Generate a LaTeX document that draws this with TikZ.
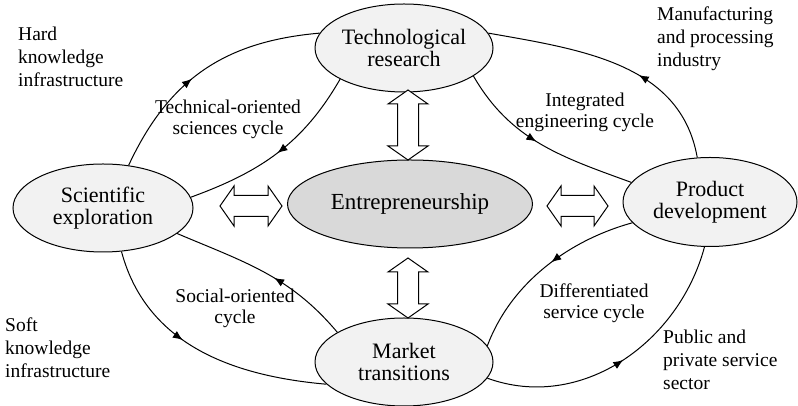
\documentclass[tikz,border=0pt]{standalone}
\usepackage{fontspec}
\setmainfont{LiberationSerif}[Extension=.ttf, UprightFont=*-Regular, BoldFont=*-Bold, ItalicFont=*-Italic]
\usetikzlibrary{shapes.geometric,arrows.meta,decorations.markings,calc}
\definecolor{ellfill}{HTML}{F2F2F2}
\definecolor{entfill}{HTML}{D9D9D9}
\newcommand\dblarr[2]{%
  \coordinate (da1) at ($(#1)!14pt!(#2)$);
  \coordinate (da2) at ($(#2)!14pt!(#1)$);
  \draw[dblarrow] (#1) -- ($(da1)!20pt!-90:(#2)$) -- ($(da1)!10.5pt!-90:(#2)$)
    -- ($(da2)!10.5pt!90:(#1)$) -- ($(da2)!20pt!90:(#1)$) -- (#2)
    -- ($(da2)!20pt!-90:(#1)$) -- ($(da2)!10.5pt!-90:(#1)$)
    -- ($(da1)!10.5pt!90:(#2)$) -- ($(da1)!20pt!90:(#2)$) -- cycle;}
\begin{document}
\begin{tikzpicture}[x=1pt,y=1pt,
  ell/.style={ellipse, draw, line width=1pt, fill=ellfill, inner sep=0pt,
    align=center, font=\fontsize{22}{22}\selectfont},
  cyc/.style={line width=1pt},
  midarr/.style={postaction={decorate,decoration={markings,
    mark=at position #1 with {\arrow{Latex[length=10pt,width=8pt]}}}}},
  dblarrow/.style={draw, line width=1pt, fill=white, line join=miter},
  lbl/.style={inner sep=0pt, align=center, anchor=base, font=\fontsize{19.5}{21}\selectfont},
  side/.style={inner sep=0pt, align=left, anchor=base west, font=\fontsize{19.5}{23}\selectfont}]
\useasboundingbox (0,0) rectangle (798,406);
\fill[white] (0,0) rectangle (798,406);

% nodes
\node[ell, minimum width=178pt, minimum height=88pt] (tech) at (404,358) {Technological\\research};
\node[ell, minimum width=180pt, minimum height=88pt] (sci) at (103,198) {Scientific\\exploration};
\node[ell, minimum width=174pt, minimum height=89pt] (prod) at (710,204) {Product\\development};
\node[ell, minimum width=178pt, minimum height=88pt] (mkt) at (404,44) {Market\\transitions};
\node[ell, fill=entfill, minimum width=245pt, minimum height=88pt,
  font=\fontsize{23}{23}\selectfont] (ent) at (410,202) {Entrepreneurship};

% cycles
\draw[cyc, midarr=0.44] (sci.59) to[out=65,in=185,looseness=1.05] (tech.170);
\draw[cyc, midarr=0.5] (tech.206) to[out=240,in=20] (sci.7);
\draw[cyc, midarr=0.4] (prod.106) to[out=100,in=-10] (tech.10);
\draw[cyc, midarr=0.47] (tech.-22) to[out=-60,in=160] (prod.166);
\draw[cyc, midarr=0.44] (mkt.156) to[out=130,in=-23] (sci.-19);
\draw[cyc, midarr=0.42] (sci.-67) to[out=-75,in=175] (mkt.196);
\draw[cyc, midarr=0.46] (prod.195) .. controls +(-62,-17) and +(24,64) .. (mkt.11);
\draw[cyc, midarr=0.5] (mkt.-11) to[out=-20,in=-105] (prod.263);

% double arrows
\coordinate (vt1) at (408,316);
\coordinate (vt2) at (408,246);
\coordinate (vb1) at (408,148);
\coordinate (vb2) at (408,88);
\coordinate (hl1) at (220,200);
\coordinate (hl2) at (282,200);
\coordinate (hr1) at (547,200);
\coordinate (hr2) at (608,200);
\dblarr{vt1}{vt2}
\dblarr{vb1}{vb2}
\dblarr{hl1}{hl2}
\dblarr{hr1}{hr2}

% cycle labels (base = last line)
\node[lbl] (l1) at (228,271) {Technical-oriented\\sciences cycle};
\node[lbl] (l2) at (585,278) {Integrated\\engineering cycle};
\node[lbl] (l3) at (235,82) {Social-oriented\\cycle};
\node[lbl] (l4) at (594,87) {Differentiated\\service cycle};

% side labels (base = last line)
\node[side] (s1) at (18,319) {Hard\\knowledge\\infrastructure};
\node[side] (s2) at (657,339) {Manufacturing\\and processing\\industry};
\node[side] (s3) at (5,28) {Soft\\knowledge\\infrastructure};
\node[side] (s4) at (663,16) {Public and\\private service\\sector};
\end{tikzpicture}
\end{document}
